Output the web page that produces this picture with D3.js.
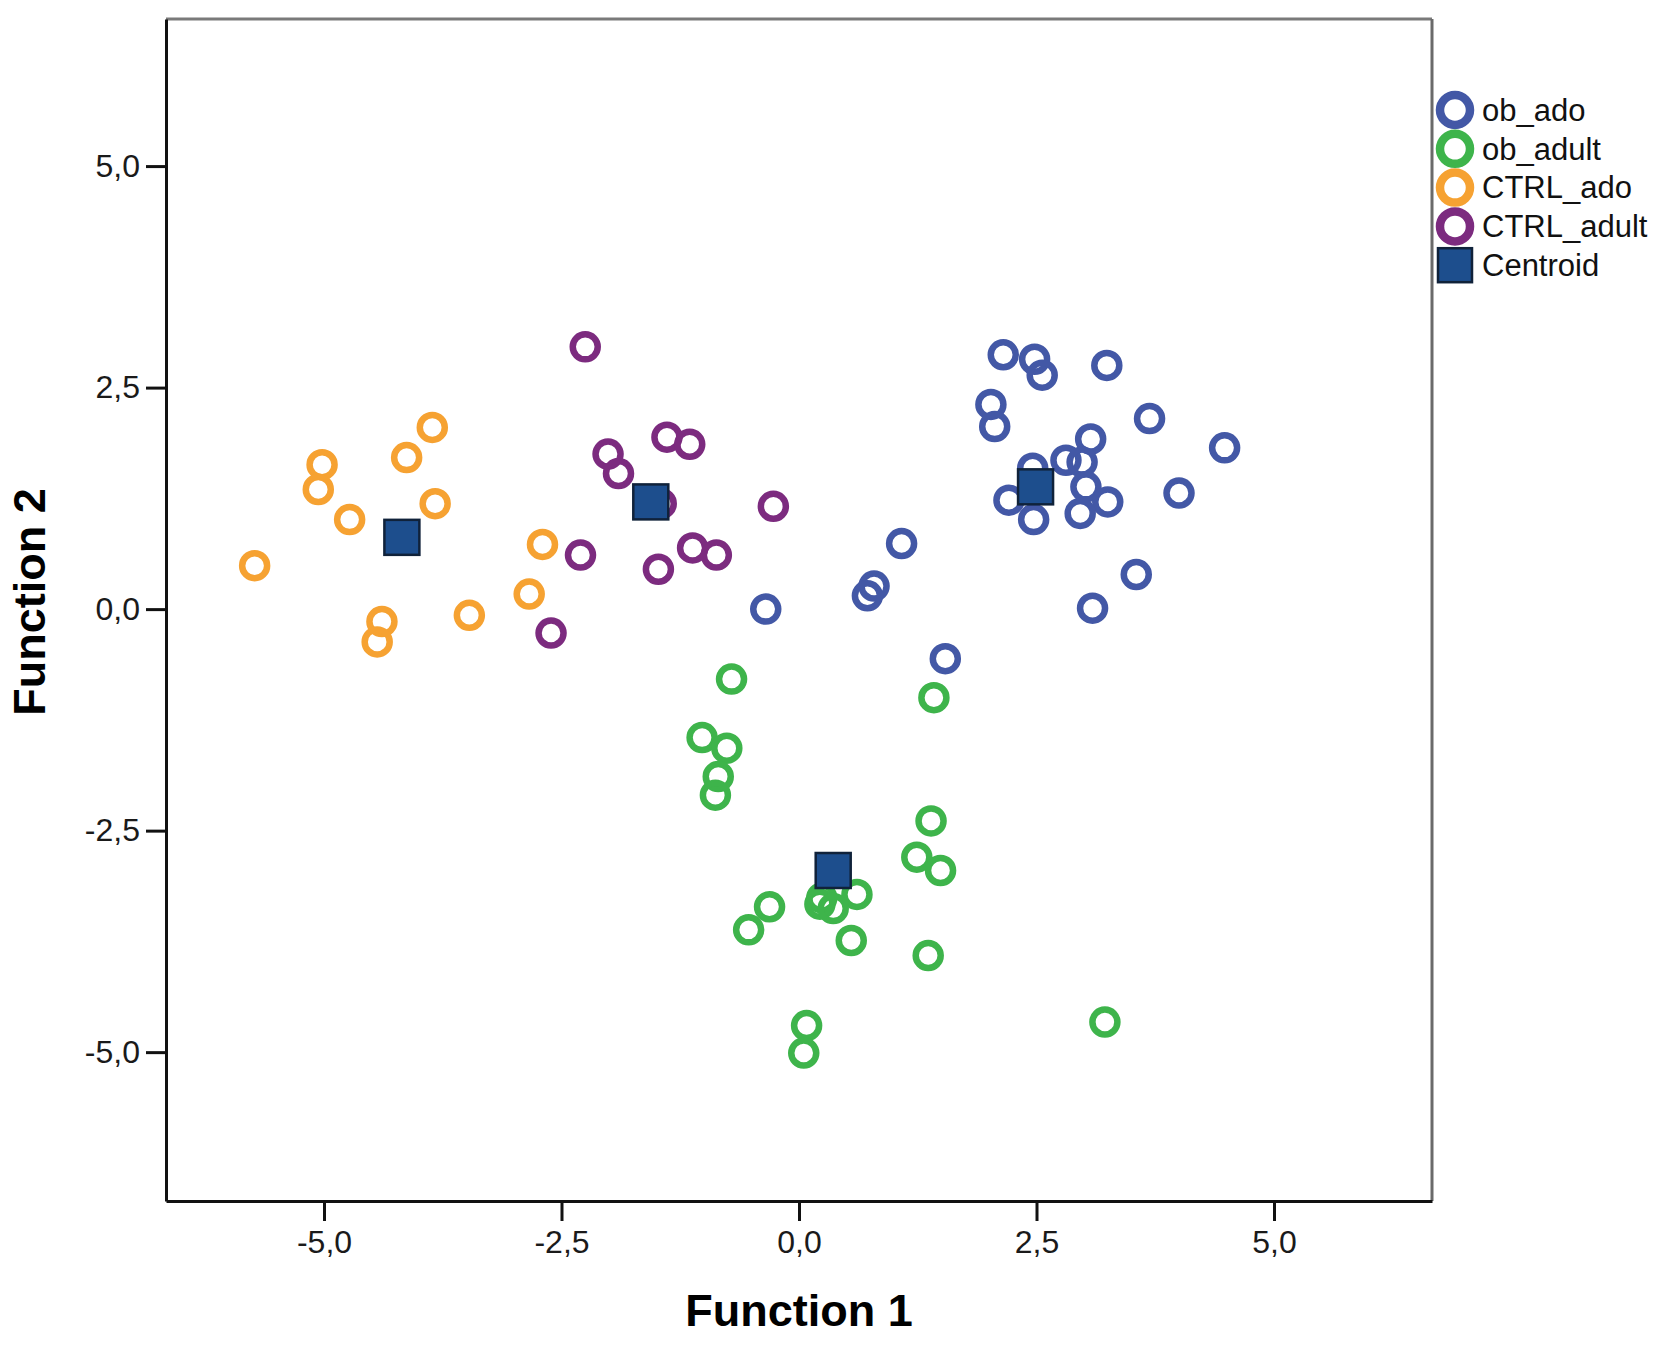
<!DOCTYPE html>
<html>
<head>
<meta charset="utf-8">
<script src="https://cdn.jsdelivr.net/npm/d3@7"></script>
<style>
  body { margin: 0; background: #fff; }
  text { font-family: Arial, "Liberation Sans", sans-serif; }
</style>
</head>
<body>
<div id="chart"></div>
<script>
// group names + colours (legend order)
const groups = ["ob_ado", "ob_adult", "CTRL_ado", "CTRL_adult"];
const groupColors = ["#4358a6", "#3eb44b", "#f6a232", "#7c2b7f"];

// discriminant scores: [function 1, function 2]
const obAdo = [
    [2.15, 2.87], [2.48, 2.82], [2.56, 2.64], [3.24, 2.75], [2.02, 2.31],
    [2.06, 2.06], [3.69, 2.15], [4.48, 1.82], [3.07, 1.92], [2.81, 1.68],
    [2.98, 1.66], [2.46, 1.59], [3.02, 1.38], [3.25, 1.21], [2.96, 1.08],
    [2.21, 1.23], [2.47, 1.01], [4.00, 1.31], [3.55, 0.39], [3.09, 0.01],
    [1.08, 0.74], [0.79, 0.26], [0.72, 0.15], [-0.35, 0.00], [1.54, -0.56]
];
const obAdult = [
    [-0.71, -0.79], [1.42, -1.00], [-1.02, -1.45], [-0.76, -1.57], [-0.85, -1.89],
    [-0.88, -2.10], [1.39, -2.39], [1.24, -2.80], [1.49, -2.95], [0.61, -3.22],
    [0.24, -3.26], [0.22, -3.33], [0.36, -3.38], [-0.31, -3.36], [-0.53, -3.62],
    [0.55, -3.74], [1.36, -3.91], [0.08, -4.70], [0.05, -5.01], [3.22, -4.66]
];
const ctrlAdo = [
    [-3.86, 2.05], [-4.13, 1.71], [-5.02, 1.63], [-5.06, 1.35], [-3.83, 1.19],
    [-4.73, 1.01], [-5.73, 0.49], [-2.70, 0.73], [-2.84, 0.17], [-3.47, -0.07],
    [-4.39, -0.14], [-4.44, -0.37]
];
const ctrlAdult = [
    [-2.25, 2.96], [-1.39, 1.94], [-1.15, 1.86], [-2.01, 1.75], [-1.90, 1.53],
    [-0.27, 1.16], [-1.12, 0.69], [-0.87, 0.61], [-1.48, 0.45], [-2.30, 0.61],
    [-2.61, -0.27], [-1.45, 1.19]
];
// group centroids, same order as groups
const centroids = [[2.49, 1.38], [0.36, -2.95], [-4.18, 0.81], [-1.56, 1.21]];

const tickValues = [-5, -2.5, 0, 2.5, 5];

const width = 1667, height = 1346;
const margin = {top: 19, right: 235, bottom: 145, left: 166};

const svg = d3.select("#chart").append("svg")
    .attr("width", width)
    .attr("height", height);

const x = d3.scaleLinear()
    .domain([-6.663, 6.663])
    .range([margin.left, width - margin.right]);

const y = d3.scaleLinear()
    .domain([-6.68, 6.66])
    .range([height - margin.bottom, margin.top]);

// comma decimals like SPSS output
const fmt = d => d.toFixed(1).replace(".", ",");

// top + right frame in grey
svg.append("line")
    .attr("x1", x.range()[0]).attr("x2", x.range()[1])
    .attr("y1", y.range()[1]).attr("y2", y.range()[1])
    .attr("stroke", "#7a7a7a").attr("stroke-width", 3);
svg.append("line")
    .attr("x1", x.range()[1]).attr("x2", x.range()[1])
    .attr("y1", y.range()[0]).attr("y2", y.range()[1])
    .attr("stroke", "#6a6a6a").attr("stroke-width", 3);

const xAxis = svg.append("g")
    .attr("transform", `translate(0,${y.range()[0]})`)
    .call(d3.axisBottom(x).tickValues(tickValues).tickFormat(fmt)
        .tickSize(20).tickSizeOuter(0).tickPadding(9));

const yAxis = svg.append("g")
    .attr("transform", `translate(${x.range()[0]},0)`)
    .call(d3.axisLeft(y).tickValues(tickValues).tickFormat(fmt)
        .tickSize(20).tickSizeOuter(0).tickPadding(6));

[xAxis, yAxis].forEach(g => {
    g.select(".domain").attr("stroke", "#111").attr("stroke-width", 3);
    g.selectAll(".tick line").attr("stroke", "#111").attr("stroke-width", 3);
    g.selectAll(".tick text")
        .attr("fill", "#1a1a1a")
        .style("font-size", "32px")
        .style("font-family", "Arial, 'Liberation Sans', sans-serif");
});

// axis titles
svg.append("text")
    .attr("x", (x.range()[0] + x.range()[1]) / 2)
    .attr("y", 1326)
    .attr("text-anchor", "middle")
    .style("font-size", "45px")
    .style("font-weight", "bold")
    .text("Function 1");

svg.append("text")
    .attr("transform", `translate(45,${(y.range()[0] + y.range()[1]) / 2 - 8}) rotate(-90)`)
    .attr("text-anchor", "middle")
    .style("font-size", "45px")
    .style("font-weight", "bold")
    .text("Function 2");

// points
const series = [obAdo, obAdult, ctrlAdo, ctrlAdult];
series.forEach((pts, i) => {
    svg.append("g")
        .selectAll("circle")
        .data(pts)
        .join("circle")
        .attr("cx", d => x(d[0]))
        .attr("cy", d => y(d[1]))
        .attr("r", 12.5)
        .attr("fill", "none")
        .attr("stroke", groupColors[i])
        .attr("stroke-width", 6.5);
});

// centroids on top
const sq = 35;
svg.append("g")
    .selectAll("rect")
    .data(centroids)
    .join("rect")
    .attr("x", d => x(d[0]) - sq / 2)
    .attr("y", d => y(d[1]) - sq / 2)
    .attr("width", sq)
    .attr("height", sq)
    .attr("fill", "#1d4e8d")
    .attr("stroke", "#10223a")
    .attr("stroke-width", 2.5);

// legend
const legend = svg.append("g").attr("transform", "translate(1455,110)");
const rowH = 38.8;
groups.forEach((g, i) => {
    legend.append("circle")
        .attr("cx", 0).attr("cy", i * rowH)
        .attr("r", 15)
        .attr("fill", "none")
        .attr("stroke", groupColors[i])
        .attr("stroke-width", 8.5);
    legend.append("text")
        .attr("x", 27).attr("y", i * rowH)
        .attr("dy", "0.35em")
        .style("font-size", "31px")
        .attr("fill", "#111")
        .text(g);
});
legend.append("rect")
    .attr("x", -17).attr("y", 4 * rowH - 17)
    .attr("width", 34).attr("height", 34)
    .attr("fill", "#1d4e8d")
    .attr("stroke", "#10223a")
    .attr("stroke-width", 2.5);
legend.append("text")
    .attr("x", 27).attr("y", 4 * rowH)
    .attr("dy", "0.35em")
    .style("font-size", "31px")
    .attr("fill", "#111")
    .text("Centroid");
</script>
</body>
</html>
